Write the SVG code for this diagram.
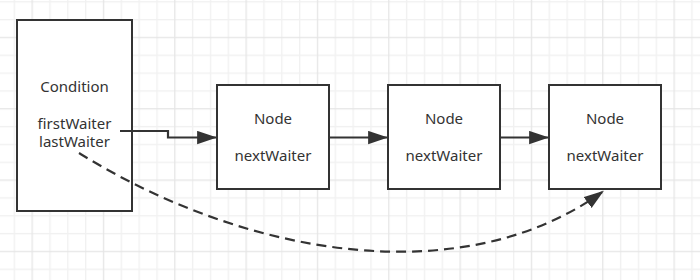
<svg xmlns="http://www.w3.org/2000/svg" width="700" height="280" viewBox="0 0 700 280">
  <defs>
    <pattern id="grid" patternUnits="userSpaceOnUse" x="31.5" y="36.8" width="71.33" height="71.33">
      <rect x="0" y="0" width="71.33" height="71.33" fill="#ffffff"/>
      <g fill="#f1f1f1">
        <rect x="17.83" y="0" width="1.3" height="71.33"/>
        <rect x="35.67" y="0" width="1.3" height="71.33"/>
        <rect x="53.5" y="0" width="1.3" height="71.33"/>
        <rect x="0" y="17.83" width="71.33" height="1.3"/>
        <rect x="0" y="35.67" width="71.33" height="1.3"/>
        <rect x="0" y="53.5" width="71.33" height="1.3"/>
      </g>
      <g fill="#e6e6e6">
        <rect x="0" y="0" width="1.3" height="71.33"/>
        <rect x="0" y="0" width="71.33" height="1.3"/>
      </g>
    </pattern>
    <marker id="arrow" markerUnits="userSpaceOnUse" markerWidth="20" markerHeight="14" refX="17" refY="6" orient="auto" viewBox="0 0 18 12">
      <path d="M0,0 L18,6 L0,12 Z" fill="#333333"/>
    </marker>
  </defs>
  <style>
    .box { fill: #ffffff; stroke: #333333; stroke-width: 2; }
    .lbl { font-family: "Noto Sans", "Open Sans", sans-serif; font-size: 15px; fill: #333333; text-anchor: middle; }
    .edge { fill: none; stroke: #333333; stroke-width: 2.2; }
    .dash { stroke-dasharray: 10 6; }
  </style>
  <rect x="0" y="0" width="700" height="280" fill="url(#grid)"/>

  <g id="condition">
    <rect class="box" x="17" y="20" width="115" height="191"/>
    <text class="lbl" x="74.5" y="92">Condition</text>
    <text class="lbl" x="74.5" y="129">firstWaiter</text>
    <text class="lbl" x="74.5" y="147">lastWaiter</text>
  </g>

  <g id="node1">
    <rect class="box" x="217" y="85" width="112" height="104"/>
    <text class="lbl" x="273" y="124">Node</text>
    <text class="lbl" x="273" y="161">nextWaiter</text>
  </g>

  <g id="node2">
    <rect class="box" x="388" y="85" width="112" height="104"/>
    <text class="lbl" x="444" y="124">Node</text>
    <text class="lbl" x="444" y="161">nextWaiter</text>
  </g>

  <g id="node3">
    <rect class="box" x="549" y="85" width="112" height="104"/>
    <text class="lbl" x="605" y="124">Node</text>
    <text class="lbl" x="605" y="161">nextWaiter</text>
  </g>

  <g id="connectors">
    <path class="edge" d="M120,131 H168 V137.5 H216" marker-end="url(#arrow)"/>
    <path class="edge" d="M329,137.5 H387" marker-end="url(#arrow)"/>
    <path class="edge" d="M500,137.5 H548" marker-end="url(#arrow)"/>
    <path class="edge dash" d="M79,153 C249,258.4 464,291.8 603,191.5" marker-end="url(#arrow)"/>
  </g>
</svg>
